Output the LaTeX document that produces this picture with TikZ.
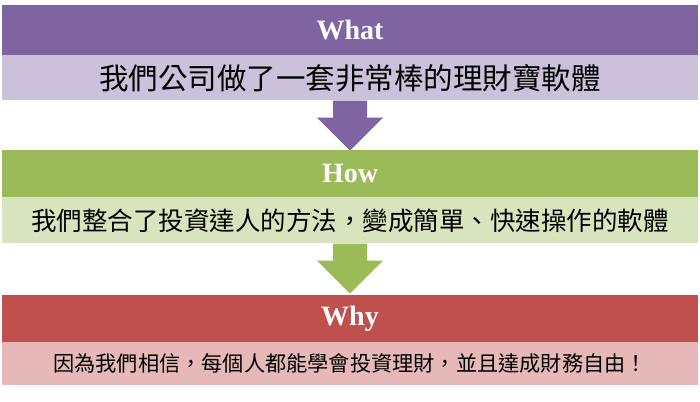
\documentclass[tikz,border=0pt]{standalone}
\usepackage{fontspec}
\setmainfont{Liberation Serif}
\newfontfamily\cjk{Noto Sans CJK TC}
\usetikzlibrary{positioning,calc}
\definecolor{whatdark}{HTML}{8064A2}
\definecolor{whatlight}{HTML}{CCC1DA}
\definecolor{howdark}{HTML}{9BBB59}
\definecolor{howlight}{HTML}{D7E4BD}
\definecolor{whydark}{HTML}{C0504D}
\definecolor{whylight}{HTML}{E6B9B8}
\tikzset{
  headbar/.style={minimum width=696pt, minimum height=50pt, inner sep=0pt,
    text=white, font=\bfseries\fontsize{28pt}{28pt}\selectfont},
  textbar/.style={minimum width=696pt, minimum height=45pt, inner sep=0pt,
    text=black},
}
% block arrow below a bar
\newcommand{\blockarrow}[2]{%
  \fill[#2] ($(#1.south)+(-17pt,0)$) -- ++(34pt,0) -- ++(0,-17pt) -- ++(16pt,0)
    -- ($(#1.south)+(0,-50pt)$) -- ($(#1.south)+(-33pt,-17pt)$) -- ++(16pt,0) -- cycle;
}
\begin{document}
\begin{tikzpicture}[x=1pt,y=1pt]
  \useasboundingbox[fill=white] (0,0) rectangle (700,-401);

  % What
  \node[headbar, fill=whatdark] (whathead) at (350,-30) {What};
  \node[textbar, fill=whatlight, below=0pt of whathead,
    font=\cjk\fontsize{29.5pt}{29.5pt}\selectfont] (whattext)
    {我們公司做了一套非常棒的理財寶軟體};
  \blockarrow{whattext}{whatdark}

  % How
  \node[headbar, fill=howdark, minimum height=47pt] (howhead) at (350,-173.5) {How};
  \node[textbar, fill=howlight, below=0pt of howhead, minimum height=46pt,
    font=\cjk\fontsize{25.5pt}{25.5pt}\selectfont] (howtext)
    {我們整合了投資達人的方法，變成簡單、快速操作的軟體};
  \blockarrow{howtext}{howdark}

  % Why
  \node[headbar, fill=whydark, minimum height=47pt] (whyhead) at (350,-318.5) {Why};
  \node[textbar, fill=whylight, below=0pt of whyhead, minimum height=43pt,
    font=\cjk\fontsize{21.2pt}{21.2pt}\selectfont] (whytext)
    {因為我們相信，每個人都能學會投資理財，並且達成財務自由！};
\end{tikzpicture}
\end{document}
